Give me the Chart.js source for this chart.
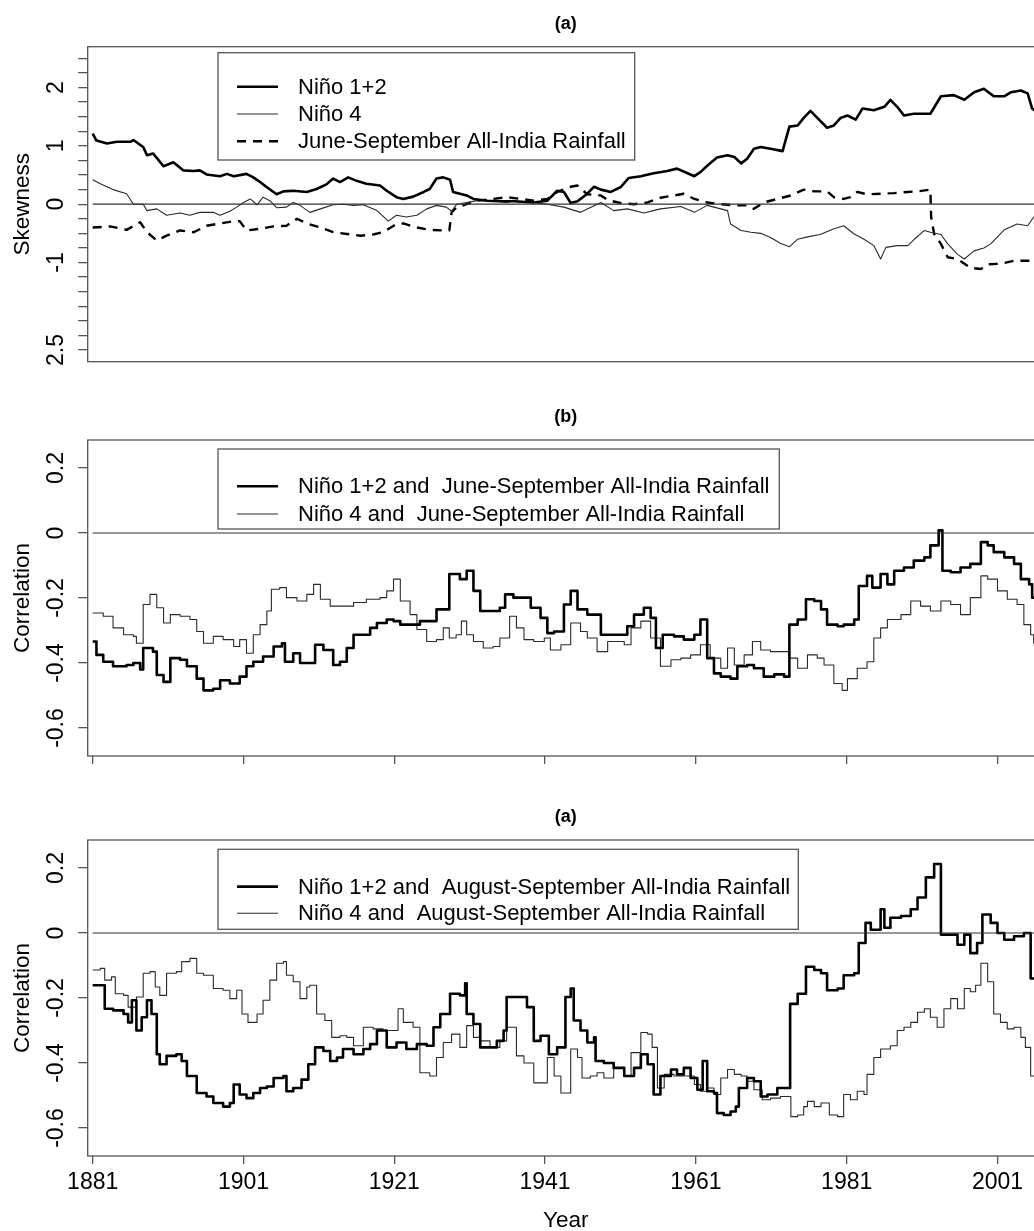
<!DOCTYPE html>
<html>
<head>
<meta charset="utf-8">
<script src="https://cdn.jsdelivr.net/npm/chart.js@4/dist/chart.umd.min.js"></script>
<style>
  html, body { margin: 0; padding: 0; background: #fff; overflow: hidden; width: 1034px; height: 1231px; }
  canvas { position: absolute; left: 0; }
</style>
</head>
<body>
<canvas id="panelA" width="1044" height="400" style="top:0px"></canvas>
<canvas id="panelB" width="1044" height="390" style="top:400px"></canvas>
<canvas id="panelC" width="1044" height="441" style="top:790px"></canvas>
<script>
// ---------------- data: [year, value] ----------------
// (a) running skewness
const skewNino12 = [[1881.0,1.21],[1881.5,1.09],[1882.9,1.04],[1884.2,1.07],[1886.0,1.07],[1886.4,1.10],[1887.7,0.98],[1888.2,0.84],[1889.0,0.87],[1890.4,0.65],[1891.7,0.72],[1893.0,0.58],[1894.4,0.57],[1895.2,0.58],[1896.1,0.51],[1897.9,0.48],[1898.8,0.52],[1899.7,0.48],[1901.4,0.52],[1902.3,0.46],[1903.2,0.38],[1904.1,0.29],[1905.4,0.17],[1906.3,0.22],[1907.6,0.23],[1909.4,0.21],[1910.7,0.26],[1912.0,0.34],[1912.9,0.44],[1913.8,0.38],[1914.9,0.46],[1916.0,0.40],[1917.3,0.35],[1919.1,0.32],[1920.0,0.23],[1921.3,0.12],[1922.2,0.09],[1923.5,0.13],[1924.9,0.21],[1925.7,0.26],[1926.6,0.44],[1927.5,0.46],[1928.4,0.42],[1928.8,0.21],[1929.7,0.18],[1930.6,0.15],[1931.5,0.09],[1933.3,0.06],[1935.0,0.05],[1936.8,0.05],[1939.5,0.03],[1941.3,0.06],[1942.6,0.23],[1943.5,0.21],[1944.4,0.02],[1945.3,0.05],[1946.6,0.18],[1947.5,0.30],[1948.4,0.25],[1949.7,0.21],[1951.0,0.29],[1952.1,0.45],[1953.7,0.48],[1955.4,0.53],[1957.2,0.57],[1958.5,0.61],[1959.9,0.53],[1960.8,0.48],[1961.6,0.55],[1962.5,0.66],[1963.8,0.80],[1965.2,0.84],[1966.1,0.81],[1967.0,0.70],[1967.8,0.78],[1968.7,0.95],[1969.6,0.98],[1970.9,0.95],[1972.5,0.91],[1973.4,1.33],[1974.5,1.35],[1975.3,1.48],[1976.2,1.60],[1977.1,1.48],[1978.4,1.31],[1979.3,1.35],[1980.2,1.48],[1981.1,1.52],[1982.2,1.45],[1983.1,1.64],[1984.6,1.61],[1986.0,1.67],[1986.8,1.79],[1987.7,1.67],[1988.6,1.52],[1989.9,1.55],[1992.1,1.55],[1993.5,1.85],[1995.2,1.87],[1996.6,1.79],[1997.9,1.92],[1999.2,1.98],[2000.5,1.85],[2001.9,1.85],[2002.8,1.92],[2004.1,1.95],[2005.0,1.90],[2005.6,1.64],[2006.5,1.55],[2008.0,1.50]];
const skewNino4 = [[1881.0,0.42],[1882.0,0.35],[1883.7,0.25],[1885.5,0.18],[1886.4,0.0],[1887.7,0.0],[1888.2,-0.11],[1889.5,-0.08],[1890.8,-0.19],[1892.6,-0.15],[1893.9,-0.19],[1895.2,-0.14],[1897.0,-0.14],[1897.9,-0.19],[1899.2,-0.12],[1900.1,-0.05],[1901.0,0.03],[1901.9,0.09],[1902.8,-0.01],[1903.6,0.12],[1904.5,0.06],[1905.4,-0.06],[1906.7,-0.05],[1907.6,0.03],[1908.5,-0.02],[1909.8,-0.14],[1911.2,-0.08],[1912.9,-0.01],[1914.2,0.0],[1915.6,-0.02],[1916.9,-0.01],[1918.7,-0.11],[1920.2,-0.29],[1921.3,-0.19],[1922.6,-0.22],[1924.0,-0.19],[1925.3,-0.08],[1926.6,-0.02],[1927.9,-0.05],[1928.6,-0.12],[1929.3,0.0],[1930.6,0.03],[1932.4,0.07],[1934.1,0.06],[1935.9,0.03],[1936.9,0.06],[1939.5,0.03],[1941.3,0.0],[1943.5,-0.05],[1945.7,-0.14],[1948.4,0.03],[1950.1,-0.11],[1951.9,-0.08],[1954.1,-0.15],[1956.3,-0.08],[1959.0,-0.04],[1960.8,-0.14],[1962.5,-0.02],[1964.3,-0.08],[1965.2,-0.11],[1965.6,-0.34],[1967.0,-0.45],[1968.3,-0.48],[1969.6,-0.50],[1970.9,-0.57],[1972.2,-0.67],[1973.4,-0.73],[1974.5,-0.60],[1975.8,-0.56],[1977.5,-0.52],[1979.3,-0.42],[1980.6,-0.37],[1982.0,-0.51],[1983.3,-0.60],[1984.6,-0.71],[1985.5,-0.94],[1986.2,-0.74],[1987.7,-0.71],[1989.1,-0.71],[1989.9,-0.61],[1991.3,-0.45],[1992.1,-0.48],[1993.5,-0.52],[1994.4,-0.68],[1995.7,-0.86],[1996.6,-0.94],[1997.9,-0.80],[1999.2,-0.75],[2000.1,-0.68],[2001.9,-0.44],[2003.6,-0.34],[2005.0,-0.37],[2005.8,-0.22],[2008.0,-0.12]];
const skewRainJJAS = [[1881.0,-0.40],[1883.3,-0.38],[1885.5,-0.44],[1887.3,-0.31],[1888.2,-0.48],[1889.5,-0.62],[1890.8,-0.54],[1892.6,-0.45],[1894.4,-0.48],[1896.1,-0.37],[1897.9,-0.33],[1899.7,-0.29],[1900.5,-0.29],[1901.4,-0.45],[1903.2,-0.42],[1905.0,-0.38],[1906.7,-0.37],[1908.1,-0.25],[1909.4,-0.33],[1911.2,-0.40],[1912.9,-0.48],[1914.7,-0.51],[1916.5,-0.54],[1918.2,-0.52],[1919.5,-0.48],[1921.3,-0.34],[1922.2,-0.33],[1924.0,-0.40],[1925.7,-0.44],[1927.5,-0.45],[1928.3,-0.45],[1928.6,-0.14],[1929.3,-0.05],[1930.6,0.0],[1931.9,0.06],[1934.1,0.09],[1935.9,0.12],[1937.8,0.09],[1939.5,0.06],[1941.3,0.09],[1942.6,0.21],[1944.4,0.30],[1945.3,0.32],[1946.6,0.17],[1948.4,0.15],[1949.3,0.07],[1951.0,0.02],[1952.8,0.0],[1954.6,0.03],[1956.3,0.11],[1958.1,0.15],[1959.4,0.18],[1960.8,0.09],[1962.5,0.03],[1964.3,0.0],[1966.1,-0.02],[1967.8,-0.02],[1968.7,-0.08],[1970.0,0.03],[1971.8,0.09],[1973.6,0.15],[1975.3,0.25],[1976.7,0.22],[1978.4,0.22],[1979.3,0.12],[1980.6,0.09],[1981.5,0.12],[1982.4,0.21],[1983.7,0.17],[1985.5,0.18],[1987.3,0.19],[1989.1,0.21],[1990.4,0.22],[1992.1,0.25],[1992.2,-0.22],[1992.6,-0.51],[1993.5,-0.68],[1994.4,-0.91],[1995.7,-0.94],[1997.4,-1.09],[1998.8,-1.11],[1999.7,-1.03],[2001.4,-1.02],[2003.2,-0.97],[2005.0,-0.97],[2008.0,-0.96]];

// (b) running correlation with June-September rainfall
const corrJJASNino12 = [[1881.0,-0.334],[1881.5,-0.375],[1882.4,-0.396],[1883.7,-0.41],[1885.5,-0.406],[1886.4,-0.40],[1887.3,-0.42],[1887.7,-0.354],[1889.0,-0.365],[1889.5,-0.437],[1890.4,-0.458],[1891.3,-0.385],[1892.6,-0.39],[1893.5,-0.41],[1894.8,-0.448],[1895.7,-0.484],[1897.0,-0.479],[1897.9,-0.453],[1899.2,-0.463],[1900.5,-0.442],[1901.4,-0.41],[1902.3,-0.396],[1903.6,-0.38],[1905.0,-0.349],[1906.1,-0.339],[1906.5,-0.396],[1907.6,-0.37],[1908.5,-0.40],[1909.8,-0.40],[1910.5,-0.344],[1911.6,-0.36],[1912.9,-0.406],[1913.8,-0.396],[1914.7,-0.354],[1915.6,-0.313],[1916.9,-0.313],[1917.8,-0.292],[1918.7,-0.277],[1920.0,-0.266],[1920.9,-0.271],[1921.8,-0.282],[1923.5,-0.282],[1924.4,-0.271],[1926.2,-0.271],[1926.6,-0.235],[1927.9,-0.235],[1928.3,-0.126],[1929.7,-0.142],[1930.6,-0.116],[1931.5,-0.178],[1932.4,-0.24],[1933.7,-0.24],[1935.0,-0.23],[1935.7,-0.189],[1936.8,-0.199],[1938.2,-0.199],[1939.1,-0.23],[1940.4,-0.261],[1941.3,-0.308],[1942.2,-0.303],[1943.5,-0.22],[1944.4,-0.178],[1945.3,-0.235],[1946.6,-0.251],[1947.5,-0.251],[1948.4,-0.313],[1949.7,-0.313],[1951.0,-0.313],[1951.9,-0.287],[1952.8,-0.251],[1954.1,-0.23],[1955.0,-0.261],[1955.7,-0.354],[1956.6,-0.313],[1958.1,-0.318],[1959.4,-0.328],[1960.8,-0.313],[1961.6,-0.266],[1962.3,-0.266],[1962.5,-0.385],[1963.4,-0.432],[1964.3,-0.442],[1965.6,-0.448],[1966.5,-0.41],[1967.8,-0.406],[1968.7,-0.416],[1970.0,-0.442],[1971.4,-0.435],[1972.7,-0.442],[1973.4,-0.282],[1974.5,-0.266],[1975.6,-0.204],[1976.7,-0.209],[1977.6,-0.235],[1978.4,-0.282],[1979.8,-0.287],[1980.6,-0.282],[1982.0,-0.266],[1982.6,-0.163],[1983.7,-0.132],[1984.4,-0.168],[1985.5,-0.126],[1986.4,-0.158],[1987.3,-0.116],[1988.6,-0.106],[1989.9,-0.085],[1991.3,-0.075],[1992.1,-0.038],[1993.2,0.008],[1993.7,-0.116],[1994.8,-0.121],[1996.1,-0.106],[1997.4,-0.095],[1998.8,-0.028],[1999.7,-0.038],[2000.5,-0.059],[2001.9,-0.075],[2003.2,-0.095],[2004.1,-0.142],[2005.2,-0.158],[2005.6,-0.199],[2008.0,-0.20]];
const corrJJASNino4 = [[1881.0,-0.246],[1882.4,-0.256],[1883.7,-0.292],[1885.1,-0.313],[1886.4,-0.318],[1886.8,-0.339],[1887.7,-0.22],[1888.6,-0.189],[1889.5,-0.23],[1890.4,-0.277],[1891.3,-0.251],[1892.6,-0.256],[1893.9,-0.266],[1894.8,-0.303],[1895.7,-0.339],[1897.0,-0.318],[1898.3,-0.328],[1899.7,-0.349],[1900.5,-0.328],[1901.4,-0.37],[1902.3,-0.313],[1903.2,-0.282],[1904.1,-0.24],[1904.7,-0.173],[1905.8,-0.168],[1906.7,-0.199],[1908.1,-0.209],[1909.4,-0.189],[1910.3,-0.158],[1911.2,-0.204],[1912.5,-0.225],[1913.8,-0.225],[1915.6,-0.214],[1917.3,-0.204],[1919.1,-0.199],[1920.0,-0.178],[1920.9,-0.142],[1921.8,-0.209],[1923.1,-0.251],[1924.0,-0.297],[1925.3,-0.334],[1926.6,-0.328],[1927.5,-0.292],[1928.3,-0.323],[1929.2,-0.313],[1929.9,-0.271],[1930.6,-0.313],[1931.5,-0.334],[1932.8,-0.354],[1934.1,-0.349],[1935.0,-0.323],[1936.3,-0.256],[1937.2,-0.292],[1938.2,-0.328],[1939.5,-0.334],[1940.9,-0.323],[1941.7,-0.36],[1943.1,-0.344],[1944.4,-0.277],[1945.7,-0.303],[1946.6,-0.323],[1947.9,-0.365],[1949.3,-0.334],[1950.6,-0.334],[1951.5,-0.344],[1952.4,-0.292],[1953.7,-0.271],[1955.0,-0.323],[1956.3,-0.41],[1957.7,-0.39],[1959.0,-0.385],[1960.3,-0.375],[1961.6,-0.344],[1962.9,-0.385],[1964.3,-0.416],[1965.2,-0.354],[1966.1,-0.406],[1967.4,-0.375],[1968.5,-0.334],[1969.6,-0.36],[1970.9,-0.365],[1972.2,-0.365],[1973.4,-0.385],[1974.5,-0.416],[1975.8,-0.375],[1977.1,-0.385],[1978.0,-0.406],[1979.3,-0.463],[1980.4,-0.484],[1981.1,-0.448],[1982.4,-0.416],[1983.7,-0.396],[1984.6,-0.323],[1985.5,-0.292],[1986.4,-0.266],[1988.2,-0.251],[1989.5,-0.209],[1990.8,-0.225],[1992.1,-0.24],[1993.5,-0.209],[1994.8,-0.22],[1996.1,-0.251],[1997.4,-0.199],[1998.8,-0.132],[1999.7,-0.142],[2001.0,-0.178],[2002.3,-0.204],[2003.6,-0.22],[2004.5,-0.282],[2005.4,-0.313],[2005.8,-0.339],[2008.0,-0.33]];

// (c) running correlation with August-September rainfall
const corrASNino12 = [[1881.0,-0.161],[1882.4,-0.161],[1882.6,-0.233],[1883.7,-0.238],[1885.1,-0.249],[1885.7,-0.275],[1886.2,-0.207],[1886.8,-0.30],[1887.5,-0.259],[1888.2,-0.207],[1888.8,-0.249],[1889.5,-0.373],[1889.9,-0.404],[1890.8,-0.378],[1892.1,-0.373],[1892.8,-0.394],[1893.5,-0.44],[1894.8,-0.492],[1896.1,-0.503],[1897.0,-0.523],[1898.3,-0.534],[1899.2,-0.523],[1899.7,-0.466],[1900.5,-0.497],[1901.4,-0.508],[1902.3,-0.492],[1903.2,-0.477],[1904.1,-0.472],[1905.0,-0.446],[1906.3,-0.44],[1906.7,-0.487],[1907.6,-0.477],[1908.7,-0.451],[1909.6,-0.404],[1910.5,-0.352],[1911.6,-0.363],[1912.5,-0.394],[1913.4,-0.383],[1914.2,-0.357],[1915.6,-0.373],[1916.9,-0.357],[1917.8,-0.342],[1918.7,-0.30],[1920.0,-0.352],[1921.3,-0.337],[1922.6,-0.357],[1924.0,-0.342],[1925.3,-0.347],[1926.2,-0.29],[1927.1,-0.249],[1928.4,-0.187],[1929.7,-0.192],[1930.4,-0.155],[1930.6,-0.249],[1931.5,-0.28],[1932.4,-0.352],[1933.7,-0.352],[1934.6,-0.332],[1935.5,-0.30],[1935.9,-0.197],[1937.2,-0.197],[1938.6,-0.228],[1939.5,-0.332],[1940.4,-0.316],[1941.5,-0.373],[1942.6,-0.352],[1943.7,-0.197],[1944.4,-0.171],[1944.8,-0.269],[1945.7,-0.30],[1946.6,-0.337],[1947.5,-0.321],[1947.7,-0.394],[1948.8,-0.40],[1950.1,-0.415],[1951.5,-0.44],[1952.8,-0.415],[1953.7,-0.373],[1954.6,-0.404],[1955.4,-0.497],[1956.3,-0.44],[1957.7,-0.42],[1958.5,-0.435],[1959.4,-0.415],[1960.3,-0.446],[1961.2,-0.482],[1961.9,-0.394],[1962.5,-0.487],[1963.4,-0.492],[1963.8,-0.554],[1964.7,-0.56],[1965.6,-0.549],[1966.3,-0.534],[1966.7,-0.477],[1967.8,-0.446],[1968.7,-0.456],[1969.6,-0.503],[1970.5,-0.497],[1971.8,-0.477],[1972.7,-0.477],[1973.5,-0.218],[1974.5,-0.187],[1975.6,-0.104],[1976.7,-0.114],[1977.6,-0.124],[1978.4,-0.176],[1979.8,-0.171],[1980.6,-0.13],[1982.0,-0.124],[1982.6,-0.031],[1983.5,0.031],[1984.2,0.01],[1985.5,0.073],[1986.0,0.016],[1986.8,0.047],[1988.2,0.052],[1989.5,0.073],[1990.4,0.109],[1991.5,0.171],[1992.6,0.212],[1993.5,-0.005],[1994.8,-0.005],[1995.7,-0.036],[1996.6,-0.005],[1997.4,-0.062],[1998.3,-0.031],[1999.0,0.057],[2000.1,0.031],[2001.0,0.0],[2001.9,-0.021],[2003.2,-0.01],[2004.5,0.0],[2005.4,-0.14],[2008.0,-0.14]];
const corrASNino4 = [[1881.0,-0.114],[1882.0,-0.109],[1882.6,-0.145],[1883.5,-0.135],[1884.0,-0.187],[1885.1,-0.192],[1885.7,-0.228],[1886.8,-0.197],[1887.7,-0.124],[1888.6,-0.119],[1889.3,-0.166],[1889.9,-0.192],[1890.8,-0.124],[1892.1,-0.119],[1892.8,-0.088],[1893.9,-0.078],[1894.8,-0.124],[1895.7,-0.13],[1897.0,-0.171],[1898.3,-0.176],[1899.2,-0.202],[1900.1,-0.176],[1900.8,-0.249],[1901.6,-0.275],[1902.8,-0.249],[1903.6,-0.207],[1904.5,-0.145],[1905.4,-0.093],[1906.3,-0.088],[1906.7,-0.13],[1907.6,-0.15],[1908.5,-0.202],[1909.4,-0.166],[1909.8,-0.161],[1910.7,-0.249],[1911.8,-0.269],[1912.7,-0.321],[1913.8,-0.316],[1914.7,-0.321],[1915.6,-0.347],[1916.9,-0.29],[1918.2,-0.295],[1919.5,-0.30],[1920.9,-0.30],[1921.5,-0.233],[1922.2,-0.275],[1923.5,-0.29],[1924.4,-0.43],[1925.7,-0.44],[1926.6,-0.383],[1927.5,-0.337],[1928.6,-0.311],[1929.7,-0.352],[1930.6,-0.285],[1931.5,-0.321],[1932.4,-0.332],[1933.7,-0.352],[1935.0,-0.332],[1935.9,-0.29],[1937.2,-0.378],[1938.2,-0.40],[1939.5,-0.461],[1941.3,-0.383],[1942.2,-0.44],[1943.1,-0.492],[1944.4,-0.357],[1945.3,-0.383],[1945.9,-0.446],[1947.0,-0.44],[1947.9,-0.43],[1948.8,-0.446],[1950.1,-0.415],[1951.5,-0.44],[1952.4,-0.368],[1953.7,-0.306],[1954.6,-0.311],[1955.2,-0.352],[1955.9,-0.477],[1956.8,-0.435],[1958.1,-0.44],[1960.8,-0.466],[1961.6,-0.487],[1962.5,-0.477],[1963.4,-0.497],[1964.3,-0.446],[1965.2,-0.42],[1966.1,-0.435],[1967.0,-0.44],[1967.8,-0.456],[1968.7,-0.482],[1969.8,-0.513],[1970.9,-0.508],[1972.2,-0.503],[1973.6,-0.565],[1974.5,-0.56],[1975.3,-0.534],[1975.8,-0.518],[1976.7,-0.534],[1977.6,-0.523],[1978.7,-0.56],[1979.8,-0.565],[1980.6,-0.497],[1981.5,-0.513],[1982.4,-0.487],[1983.3,-0.497],[1983.7,-0.435],[1984.6,-0.383],[1985.5,-0.357],[1986.8,-0.347],[1987.7,-0.30],[1988.6,-0.29],[1989.5,-0.275],[1990.4,-0.244],[1991.3,-0.233],[1992.1,-0.259],[1993.0,-0.29],[1993.9,-0.233],[1994.8,-0.202],[1995.7,-0.233],[1996.6,-0.171],[1997.4,-0.181],[1998.1,-0.161],[1998.8,-0.093],[1999.7,-0.15],[2000.5,-0.249],[2001.4,-0.275],[2002.3,-0.295],[2003.2,-0.29],[2004.1,-0.321],[2004.7,-0.352],[2005.4,-0.44],[2008.0,-0.44]];

const zeroLine = [[1881, 0], [2010, 0]];

// axis ticks and labels
const yearTicks = [1881, 1901, 1921, 1941, 1961, 1981, 2001, 2021];
const skewTicks = [2.5, 2.25, 2, 1.75, 1.5, 1.25, 1, 0.75, 0.5, 0.25, 0, -0.25, -0.5, -0.75, -1, -1.25, -1.5, -1.75, -2, -2.25, -2.5];
const skewTickLabels = [[2, '2'], [1, '1'], [0, '0'], [-1, '-1'], [-2.5, '2.5']];
const corrTicks = [0.2, 0, -0.2, -0.4, -0.6];
const corrTickLabels = [[0.2, '0.2'], [0, '0'], [-0.2, '-0.2'], [-0.4, '-0.4'], [-0.6, '-0.6']];

// ---------------- drawing helpers ----------------
const FONT = '"Liberation Sans", Arial, Helvetica, sans-serif';
const FRAME = '#555';
const toXY = pairs => pairs.map(([x, y]) => ({ x, y }));

function line(label, pairs, kind, stepped) {
  const base = { label, data: toXY(pairs), pointRadius: 0, fill: false, tension: 0, stepped: !!stepped, borderJoinStyle: 'round' };
  if (kind === 'thick') return Object.assign(base, { borderColor: '#000', borderWidth: 2.6 });
  if (kind === 'thin') return Object.assign(base, { borderColor: '#2a2a2a', borderWidth: 1.1 });
  if (kind === 'dash') return Object.assign(base, { borderColor: '#000', borderWidth: 2.4, borderDash: [9, 7] });
  return Object.assign(base, { borderColor: '#333', borderWidth: 1.2, inLegend: false });
}

// frame, tick labels, titles and legend
const decor = {
  id: 'decor',
  afterDatasetsDraw(chart, args, o) {
    const { ctx, chartArea: a, scales } = chart;
    ctx.save();
    // plot frame
    ctx.strokeStyle = FRAME;
    ctx.lineWidth = 1.3;
    ctx.strokeRect(a.left, a.top, a.right - a.left + 20, a.bottom - a.top);

    // panel title
    ctx.fillStyle = '#000';
    ctx.font = 'bold 18px ' + FONT;
    ctx.textAlign = 'center';
    ctx.textBaseline = 'middle';
    ctx.fillText(o.title, (a.left + a.right) / 2, a.top - 23);

    // y tick labels, parallel to the axis
    ctx.font = '23px ' + FONT;
    o.yLabels.forEach(([v, t]) => {
      ctx.save();
      ctx.translate(56.7, scales.y.getPixelForValue(v));
      ctx.rotate(-Math.PI / 2);
      ctx.fillText(t, 0, 0);
      ctx.restore();
    });

    // y axis title
    ctx.font = '22.5px ' + FONT;
    ctx.save();
    ctx.translate(22.5, (a.top + a.bottom) / 2);
    ctx.rotate(-Math.PI / 2);
    ctx.fillText(o.yTitle, 0, 0);
    ctx.restore();

    // x tick labels and title
    if (o.xLabels) {
      ctx.font = '23px ' + FONT;
      yearTicks.forEach(v => ctx.fillText(String(v), scales.x.getPixelForValue(v), a.bottom + 26.5));
      ctx.font = '22.5px ' + FONT;
      ctx.fillText(o.xTitle, (a.left + a.right) / 2, a.bottom + 65);
    }

    // legend box
    const L = o.legend;
    const lx = a.left + L.dx, ly = a.top + L.dy;
    ctx.fillStyle = '#fff';
    ctx.fillRect(lx, ly, L.w, L.h);
    ctx.strokeStyle = FRAME;
    ctx.lineWidth = 1.3;
    ctx.strokeRect(lx, ly, L.w, L.h);
    ctx.font = '22px ' + FONT;
    ctx.textAlign = 'left';
    const items = chart.data.datasets.filter(d => d.inLegend !== false);
    items.forEach((d, i) => {
      const yy = ly + L.first + i * L.gap;
      ctx.strokeStyle = d.borderColor;
      ctx.lineWidth = d.borderWidth;
      ctx.setLineDash(d.borderDash || []);
      ctx.beginPath();
      ctx.moveTo(lx + 19, yy);
      ctx.lineTo(lx + 60, yy);
      ctx.stroke();
      ctx.setLineDash([]);
      ctx.fillStyle = '#000';
      ctx.fillText(d.label, lx + 80, yy + 1);
    });
    ctx.restore();
  }
};

function makePanel(id, cfg) {
  return new Chart(document.getElementById(id), {
    type: 'line',
    data: { datasets: cfg.datasets },
    options: {
      responsive: false,
      animation: false,
      events: [],
      layout: { padding: { top: cfg.top, left: 0, right: 0, bottom: 0 } },
      plugins: { legend: { display: false }, tooltip: { enabled: false }, decor: cfg.decor },
      scales: {
        x: {
          type: 'linear', min: 1880.34, max: 2007.17,
          afterBuildTicks: s => { s.ticks = yearTicks.map(v => ({ value: v })); },
          afterFit: s => { s.height = cfg.xHeight; },
          ticks: { display: false },
          border: { display: false },
          grid: { display: cfg.xTicks, drawOnChartArea: false, drawTicks: true, tickLength: 8, color: FRAME, lineWidth: 1.3 }
        },
        y: {
          type: 'linear', min: cfg.yMin, max: cfg.yMax,
          afterBuildTicks: s => { s.ticks = cfg.yTicks.map(v => ({ value: v })); },
          afterFit: s => { s.width = 87.7; },
          ticks: { display: false },
          border: { display: false },
          grid: { display: true, drawOnChartArea: false, drawTicks: true, tickLength: 9.5, color: FRAME, lineWidth: 1.3 }
        }
      }
    },
    plugins: [decor]
  });
}

makePanel('panelA', {
  top: 46.7, xHeight: 38.3, xTicks: false, yMin: -2.7, yMax: 2.7, yTicks: skewTicks,
  datasets: [
    line('zero', zeroLine, 'zero'),
    line('Niño 1+2', skewNino12, 'thick'),
    line('Niño 4', skewNino4, 'thin'),
    line('June-September All-India Rainfall', skewRainJJAS, 'dash')
  ],
  decor: { title: '(a)', yTitle: 'Skewness', yLabels: skewTickLabels, xLabels: false,
           legend: { dx: 130.3, dy: 6, w: 416.7, h: 107.3, first: 34, gap: 27.3 } }
});

makePanel('panelB', {
  top: 40, xHeight: 34, xTicks: true, yMin: -0.686, yMax: 0.286, yTicks: corrTicks,
  datasets: [
    line('zero', zeroLine, 'zero'),
    line('Niño 1+2 and  June-September All-India Rainfall', corrJJASNino12, 'thick', true),
    line('Niño 4 and  June-September All-India Rainfall', corrJJASNino4, 'thin', true)
  ],
  decor: { title: '(b)', yTitle: 'Correlation', yLabels: corrTickLabels, xLabels: false,
           legend: { dx: 130.3, dy: 9, w: 561.3, h: 80, first: 37.3, gap: 27.7 } }
});

makePanel('panelC', {
  top: 50, xHeight: 75, xTicks: true, yMin: -0.686, yMax: 0.286, yTicks: corrTicks,
  datasets: [
    line('zero', zeroLine, 'zero'),
    line('Niño 1+2 and  August-September All-India Rainfall', corrASNino12, 'thick', true),
    line('Niño 4 and  August-September All-India Rainfall', corrASNino4, 'thin', true)
  ],
  decor: { title: '(a)', yTitle: 'Correlation', yLabels: corrTickLabels, xLabels: true, xTitle: 'Year',
           legend: { dx: 130.3, dy: 9.3, w: 580.3, h: 80, first: 37.3, gap: 26.7 } }
});
</script>
</body>
</html>
